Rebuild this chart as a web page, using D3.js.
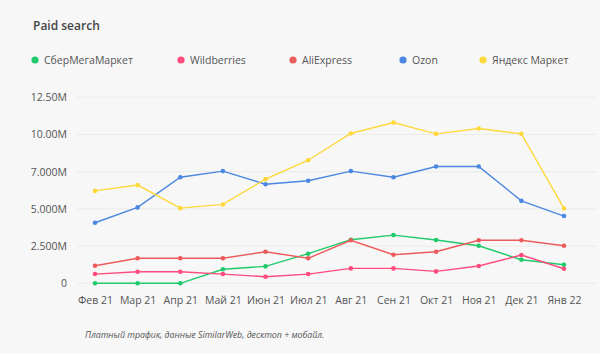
<!DOCTYPE html>
<html>
<head>
<meta charset="utf-8">
<script src="https://cdn.jsdelivr.net/npm/d3@7"></script>
<style>
  body { margin: 0; background: #f7f7f7; }
  svg { display: block; font-family: "Open Sans", sans-serif; }
</style>
</head>
<body>
<div id="chart"></div>
<script>
// données (millions de visites)
const months = ["Фев 21", "Мар 21", "Апр 21", "Май 21", "Июн 21", "Июл 21",
                "Авг 21", "Сен 21", "Окт 21", "Ноя 21", "Дек 21", "Янв 22"];

const seriesNames = ["СберМегаМаркет", "Wildberries", "AliExpress", "Ozon", "Яндекс Маркет"];
const seriesColors = ["#1fca6a", "#ff4b7e", "#ec5b5b", "#4b87e0", "#ffd83b"];

const sber = [0, 0, 0, 0.94, 1.14, 1.99, 2.93, 3.24, 2.91, 2.52, 1.58, 1.25];
const wildberries = [0.62, 0.78, 0.78, 0.62, 0.44, 0.62, 1.0, 1.0, 0.8, 1.16, 1.9, 0.98];
const aliexpress = [1.18, 1.68, 1.68, 1.68, 2.12, 1.68, 2.89, 1.92, 2.12, 2.89, 2.89, 2.52];
const ozon = [4.07, 5.1, 7.13, 7.54, 6.66, 6.89, 7.54, 7.13, 7.85, 7.85, 5.54, 4.52];
const yandex = [6.21, 6.6, 5.05, 5.3, 7.0, 8.27, 10.07, 10.8, 10.04, 10.4, 10.04, 5.03];

const seriesValues = [sber, wildberries, aliexpress, ozon, yandex];

const yTicks = [0, 2.5, 5, 7.5, 10, 12.5];
const yTickLabels = ["0", "2.500M", "5.000M", "7.000M", "10.00M", "12.50M"];

const width = 600, height = 354;

const svg = d3.select("#chart").append("svg")
    .attr("width", width).attr("height", height);

svg.append("rect").attr("width", width).attr("height", height).attr("fill", "#f7f7f7");

// titre
svg.append("text")
    .attr("x", 33).attr("y", 30)
    .text("Paid search")
    .style("font-size", "12px")
    .style("font-weight", "600")
    .style("fill", "#444");

// légende
const legendX = [35, 181, 293, 403, 483];
seriesNames.forEach((name, i) => {
    const g = svg.append("g").attr("transform", `translate(${legendX[i]},60)`);
    g.append("circle").attr("r", 3.6).attr("fill", seriesColors[i]);
    g.append("text").attr("x", 9).attr("dy", "0.35em")
        .text(name)
        .style("font-size", "10.5px")
        .style("fill", "#555");
});

// échelles
const x = d3.scalePoint().domain(months).range([95, 564]);
const y = d3.scaleLinear().domain([0, 12.5]).range([283.3, 97.3]);

// grille
svg.append("g").selectAll("line")
    .data(yTicks).enter().append("line")
    .attr("x1", 77).attr("x2", 597)
    .attr("y1", d => y(d)).attr("y2", d => y(d))
    .attr("stroke", "#ebebeb");

// axe Y
const yAxis = svg.append("g")
    .attr("transform", "translate(67,0)")
    .call(d3.axisLeft(y).tickValues(yTicks).tickFormat((d, i) => yTickLabels[i]).tickSize(0).tickPadding(0));
yAxis.select(".domain").remove();
yAxis.selectAll("text").style("font-size", "10.5px").style("fill", "#555").style("font-family", "'Open Sans', sans-serif");

// axe X
const xAxis = svg.append("g")
    .attr("transform", "translate(0,297)")
    .call(d3.axisBottom(x).tickSize(0).tickPadding(0));
xAxis.select(".domain").remove();
xAxis.selectAll("text").style("font-size", "10.5px").style("fill", "#555").style("font-family", "'Open Sans', sans-serif");

// lignes
const line = d3.line()
    .x((d, i) => x(months[i]))
    .y(d => y(d));

seriesValues.forEach((values, s) => {
    svg.append("path")
        .datum(values)
        .attr("d", line)
        .attr("fill", "none")
        .attr("stroke", seriesColors[s])
        .attr("stroke-width", 1.4);

    svg.append("g").selectAll("circle")
        .data(values).enter().append("circle")
        .attr("cx", (d, i) => x(months[i]))
        .attr("cy", d => y(d))
        .attr("r", 2.3)
        .attr("fill", seriesColors[s]);
});

// note de bas de page
svg.append("text")
    .attr("x", 85).attr("y", 338)
    .text("Платный трафик, данные SimilarWeb, десктоп + мобайл.")
    .style("font-size", "8.8px")
    .style("font-style", "italic")
    .style("fill", "#555");
</script>
</body>
</html>
